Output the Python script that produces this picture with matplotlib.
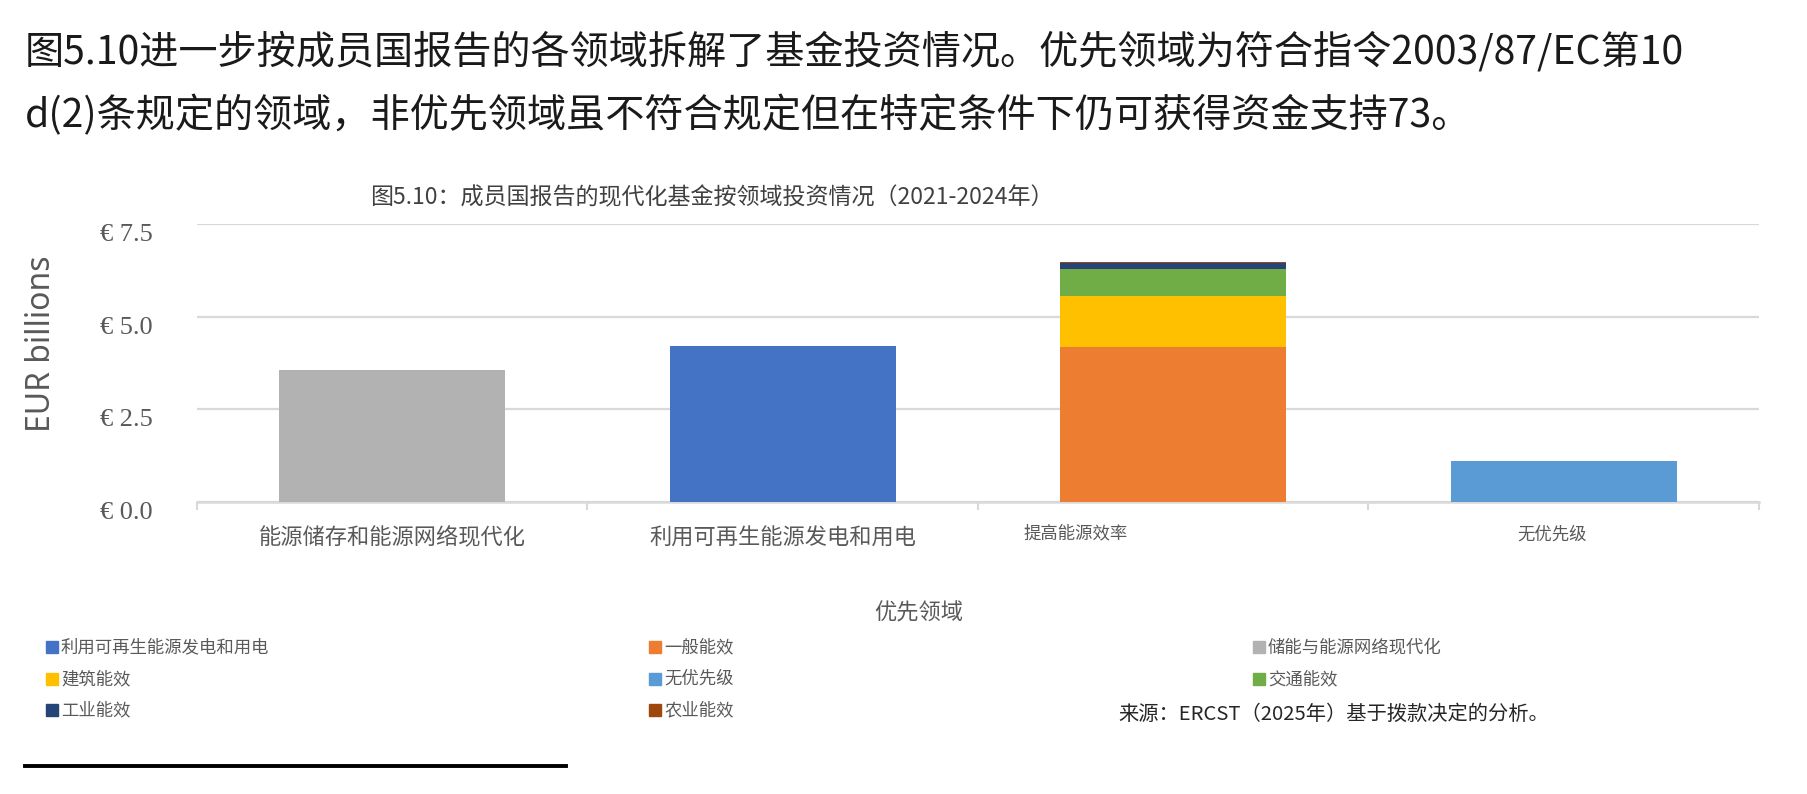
import matplotlib.pyplot as plt
from matplotlib.patches import Rectangle
from matplotlib.lines import Line2D

plt.rcParams["font.family"] = ["Noto Sans CJK SC", "DejaVu Sans"]

# categories on the x axis
categories = ["能源储存和能源网络现代化", "利用可再生能源发电和用电", "提高能源效率", "无优先级"]

# series values, EUR billions (one value per category)
series_names = ["储能与能源网络现代化", "利用可再生能源发电和用电", "一般能效", "建筑能效",
                "交通能效", "工业能效", "农业能效", "无优先级"]
storage = [3.57, 0, 0, 0]
renewables = [0, 4.20, 0, 0]
general_eff = [0, 0, 4.18, 0]
building_eff = [0, 0, 1.37, 0]
transport_eff = [0, 0, 0.73, 0]
industry_eff = [0, 0, 0.18, 0]
agri_eff = [0, 0, 0.02, 0]
no_priority = [0, 0, 0, 1.09]

series_colors = ["#B2B2B2", "#4472C4", "#ED7D31", "#FFC000",
                 "#70AD47", "#264478", "#9E480E", "#5B9BD5"]

yticks = [0, 2.5, 5.0, 7.5]
ytick_labels = ["€ 0.0", "€ 2.5", "€ 5.0", "€ 7.5"]

# legend order as shown (row by row)
legend_order = ["利用可再生能源发电和用电", "一般能效", "储能与能源网络现代化",
                "建筑能效", "无优先级", "交通能效",
                "工业能效", "农业能效"]

fig = plt.figure(figsize=(18.08, 7.94), dpi=100)
ax = fig.add_axes([197 / 1808, 1 - 501.7 / 794, 1562 / 1808, 277.7 / 794])

x = list(range(len(categories)))
all_series = [storage, renewables, general_eff, building_eff,
              transport_eff, industry_eff, agri_eff, no_priority]
bottom = [0.0] * len(categories)
for name, vals, col in zip(series_names, all_series, series_colors):
    ax.bar(x, vals, width=0.58, bottom=bottom, color=col, label=name, zorder=3)
    bottom = [b + v for b, v in zip(bottom, vals)]

ax.set_xlim(-0.5, len(categories) - 0.5)
ax.set_ylim(0, 7.5)
ax.set_yticks(yticks)
ax.set_yticklabels(ytick_labels, color="#595959", fontsize=19,
                   family=["Liberation Serif", "DejaVu Sans"])
for lab in ax.get_yticklabels():
    lab.set_va("top")
    lab.set_y(0)
ax.tick_params(axis="y", length=0, pad=32)
ax.grid(axis="y", color="#D9D9D9", linewidth=1.6, zorder=0)
for s in ["left", "right", "top"]:
    ax.spines[s].set_visible(False)
ax.spines["bottom"].set_color("#D9D9D9")
ax.spines["bottom"].set_linewidth(1.8)

# category boundary ticks
ax.set_xticks([i - 0.5 for i in range(len(categories) + 1)])
ax.set_xticklabels([])
ax.tick_params(axis="x", length=6, width=1.5, color="#D9D9D9")

# category labels (two small ones as in the original)
label_sizes = [16, 16, 12.5, 12.5]
label_shift = [0, 0, -0.25, -0.03]
label_y = [-0.13, -0.13, -0.115, -0.12]
for i, lab in enumerate(categories):
    ax.text(i + label_shift[i], label_y[i], lab, transform=ax.get_xaxis_transform(),
            ha="center", va="center", fontsize=label_sizes[i], color="#595959")

ax.set_ylabel("EUR billions", fontsize=23, color="#595959", family="Noto Sans",
              labelpad=0)
ax.yaxis.set_label_coords(-139 / 1562, 0.568)

# chart title and axis title
fig.text(712 / 1808, 1 - 198 / 794, "图5.10：成员国报告的现代化基金按领域投资情况（2021-2024年）",
         ha="center", va="center", fontsize=16.6, color="#404040")
fig.text(919 / 1808, 1 - 613 / 794, "优先领域", ha="center", va="center",
         fontsize=16, color="#595959")

# body text above the chart
fig.text(25 / 1808, 1 - 52 / 794,
         "图5.10进一步按成员国报告的各领域拆解了基金投资情况。优先领域为符合指令2003/87/EC第10",
         ha="left", va="center", fontsize=28.2, color="#1a1a1a")
fig.text(25 / 1808, 1 - 116 / 794,
         "d(2)条规定的领域，非优先领域虽不符合规定但在特定条件下仍可获得资金支持73。",
         ha="left", va="center", fontsize=28.2, color="#1a1a1a")

# legend, three columns filled row by row
col_x = [46, 649, 1253]
row_y = [647, 679, 710]
for k, name in enumerate(legend_order):
    r, c = divmod(k, 3)
    col = series_colors[series_names.index(name)]
    fig.add_artist(Rectangle(((col_x[c]) / 1808, 1 - (row_y[r] + 6) / 794),
                             12 / 1808, 12 / 794, color=col, transform=fig.transFigure))
    fig.text((col_x[c] + 15) / 1808, 1 - row_y[r] / 794, name, ha="left", va="center",
             fontsize=12.5, color="#595959")

fig.text(1118 / 1808, 1 - 714 / 794, "来源：ERCST（2025年）基于拨款决定的分析。",
         ha="left", va="center", fontsize=14.6, color="#262626")

# footnote rule
fig.add_artist(Line2D([25 / 1808, 566 / 1808], [1 - 766 / 794, 1 - 766 / 794],
                      color="black", linewidth=2.8, transform=fig.transFigure))

fig.savefig("out.png", dpi=100)
